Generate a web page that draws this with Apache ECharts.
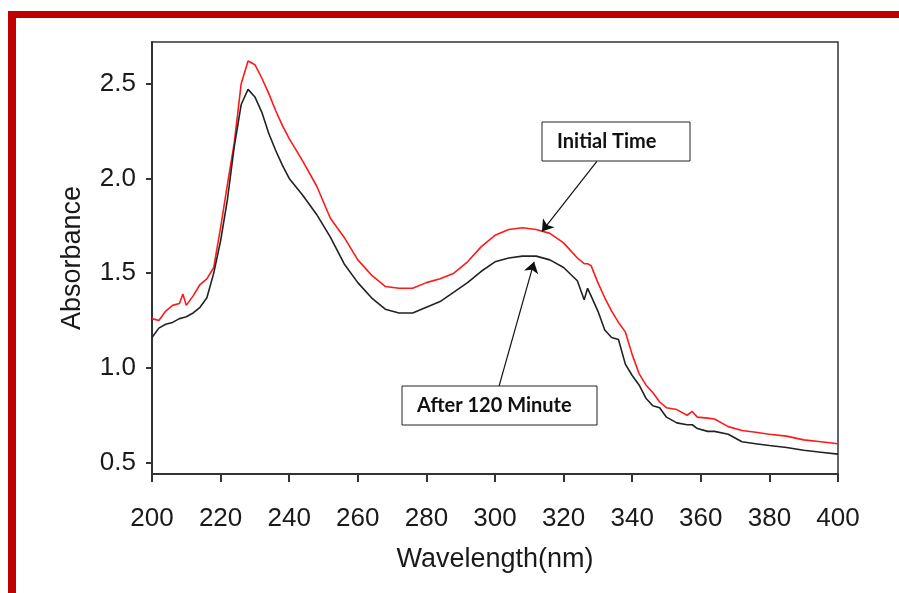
<!DOCTYPE html>
<html>
<head>
<meta charset="utf-8">
<script src="https://cdn.jsdelivr.net/npm/echarts@6/dist/echarts.min.js"></script>
<style>
  html, body { margin: 0; padding: 0; background: #fff; }
  #chart { width: 899px; height: 593px; }
</style>
</head>
<body>
<div id="chart"></div>
<script>
// wavelength (nm)
var wavelength = [200, 202, 204, 206, 208, 209, 210, 212, 214, 216, 218, 220, 222, 224, 226, 228, 230, 232, 234, 236, 238, 240, 244, 248, 252, 256, 260, 264, 268, 272, 276, 280, 284, 288, 292, 296, 300, 304, 308, 312, 316, 320, 324, 326, 327, 328, 330, 332, 334, 336, 338, 340, 342, 344, 346, 348, 350, 353, 356, 357.5, 359, 362, 364, 368, 372, 376, 380, 385, 390, 395, 400]
// red curve
var initialTime = [1.26, 1.25, 1.30, 1.33, 1.34, 1.39, 1.33, 1.38, 1.44, 1.47, 1.53, 1.74, 1.97, 2.19, 2.50, 2.62, 2.60, 2.53, 2.45, 2.36, 2.28, 2.21, 2.09, 1.96, 1.79, 1.69, 1.57, 1.49, 1.43, 1.42, 1.42, 1.45, 1.47, 1.50, 1.56, 1.64, 1.70, 1.73, 1.74, 1.73, 1.71, 1.66, 1.58, 1.55, 1.55, 1.54, 1.45, 1.37, 1.30, 1.24, 1.19, 1.07, 0.97, 0.91, 0.87, 0.82, 0.79, 0.78, 0.75, 0.77, 0.74, 0.735, 0.73, 0.69, 0.67, 0.66, 0.65, 0.64, 0.62, 0.61, 0.60]
// black curve
var after120 = [1.16, 1.21, 1.23, 1.24, 1.26, 1.265, 1.27, 1.29, 1.32, 1.37, 1.50, 1.67, 1.89, 2.17, 2.39, 2.47, 2.43, 2.35, 2.24, 2.15, 2.07, 2.00, 1.91, 1.81, 1.69, 1.55, 1.45, 1.37, 1.31, 1.29, 1.29, 1.32, 1.35, 1.40, 1.45, 1.51, 1.56, 1.58, 1.59, 1.59, 1.57, 1.53, 1.46, 1.36, 1.42, 1.38, 1.30, 1.20, 1.16, 1.15, 1.02, 0.96, 0.91, 0.84, 0.80, 0.79, 0.74, 0.71, 0.70, 0.70, 0.68, 0.665, 0.665, 0.65, 0.61, 0.60, 0.59, 0.58, 0.565, 0.555, 0.545]
var yTicks = [0.5, 1.0, 1.5, 2.0, 2.5]

var chart = echarts.init(document.getElementById('chart'))
var axisFont = 'Liberation Sans, Arial, sans-serif'
var noteFont = 'Lato, Noto Sans, sans-serif'

function pairs(ys) {
  return wavelength.map(function (x, i) { return [x, ys[i]] })
}

function noteBox(x, y, w, h, text) {
  return {
    type: 'group', x: x, y: y, silent: true,
    children: [
      { type: 'rect', shape: { x: 0, y: 0, width: w, height: h }, style: { fill: '#fff', stroke: '#222', lineWidth: 1 } },
      { type: 'text', x: 15, y: h / 2, style: { text: text, font: 'bold 20px ' + noteFont, fill: '#111', verticalAlign: 'middle' } }
    ]
  }
}

var option = {
  backgroundColor: '#fff',
  animation: false,
  grid: {
    left: 152, top: 42, right: 61, bottom: 119,
    show: true, borderColor: '#333', borderWidth: 1.5
  },
  xAxis: {
    type: 'value', min: 200, max: 400, interval: 20,
    name: 'Wavelength(nm)', nameLocation: 'middle', nameGap: 72,
    nameTextStyle: { fontFamily: axisFont, fontSize: 27, color: '#1a1a1a' },
    axisLine: { lineStyle: { color: '#333', width: 2 } },
    axisTick: { length: 8, lineStyle: { color: '#333', width: 2 } },
    axisLabel: { fontFamily: axisFont, fontSize: 26, color: '#1a1a1a', margin: 32 },
    splitLine: { show: false }
  },
  yAxis: {
    type: 'value', min: 0.44, max: 2.72,
    name: 'Absorbance', nameLocation: 'middle', nameGap: 66,
    nameTextStyle: { fontFamily: axisFont, fontSize: 27, color: '#1a1a1a' },
    axisLine: { show: true, lineStyle: { color: '#333', width: 2 } },
    axisTick: { show: true, length: 6, customValues: yTicks, lineStyle: { color: '#333', width: 2 } },
    axisLabel: {
      fontFamily: axisFont, fontSize: 26, color: '#1a1a1a', margin: 16,
      customValues: yTicks,
      formatter: function (v) { return v.toFixed(1) }
    },
    splitLine: { show: false }
  },
  series: [
    {
      name: 'Initial Time', type: 'line', data: pairs(initialTime),
      showSymbol: false, color: '#ff1a1a', lineStyle: { width: 1.6 },
      markLine: {
        silent: true, symbol: ['none', 'arrow'], symbolSize: 11,
        lineStyle: { color: '#111', width: 1.2, type: 'solid' },
        label: { show: false },
        data: [[{ coord: [329.7, 2.09] }, { coord: [313.7, 1.72] }]]
      }
    },
    {
      name: 'After 120 Minute', type: 'line', data: pairs(after120),
      showSymbol: false, color: '#222', lineStyle: { width: 1.6 },
      markLine: {
        silent: true, symbol: ['none', 'arrow'], symbolSize: 11,
        lineStyle: { color: '#111', width: 1.2, type: 'solid' },
        label: { show: false },
        data: [[{ coord: [301.2, 0.905] }, { coord: [311.4, 1.56] }]]
      }
    }
  ],
  graphic: [
    // red frame at top and left
    { type: 'rect', silent: true, shape: { x: 8, y: 11, width: 891, height: 7 }, style: { fill: '#c00000' } },
    { type: 'rect', silent: true, shape: { x: 8, y: 11, width: 8, height: 582 }, style: { fill: '#c00000' } },
    noteBox(542, 122, 148, 39, 'Initial Time'),
    noteBox(402, 386, 195, 39, 'After 120 Minute')
  ]
}

chart.setOption(option)
</script>
</body>
</html>
